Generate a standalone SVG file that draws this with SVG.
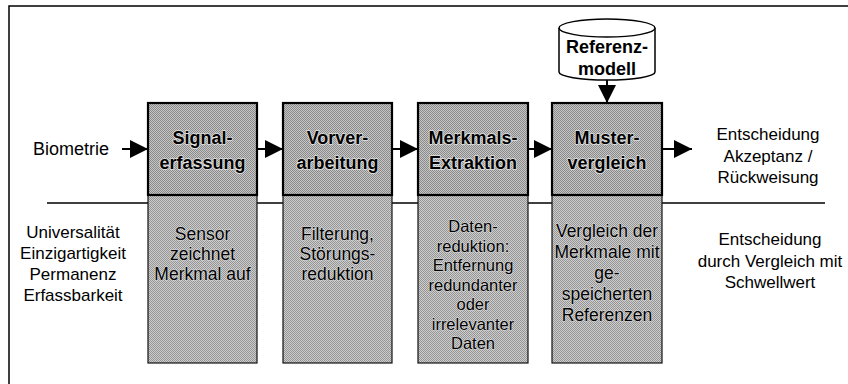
<svg xmlns="http://www.w3.org/2000/svg" width="848" height="384" viewBox="0 0 848 384">
<defs>
<pattern id="ditherA" patternUnits="userSpaceOnUse" width="2" height="2">
<rect width="2" height="2" fill="#c6c6c6"/>
<rect width="1" height="1" fill="#8a8a8a"/>
<rect x="1" y="1" width="1" height="1" fill="#8a8a8a"/>
</pattern>
<pattern id="ditherB" patternUnits="userSpaceOnUse" width="2" height="2">
<rect width="2" height="2" fill="#cdcdcd"/>
<rect width="1" height="1" fill="#959595"/>
<rect x="1" y="1" width="1" height="1" fill="#959595"/>
</pattern>
<marker id="arr" viewBox="0 0 10 10" refX="10" refY="5" markerWidth="18" markerHeight="18" markerUnits="userSpaceOnUse" orient="auto">
<path d="M0,0 L10,5 L0,10 Z" fill="#000"/>
</marker>
</defs>
<style>
text{font-family:"Liberation Sans",Arial,sans-serif;fill:#000;text-anchor:middle}
.plain{font-size:17px}
.head{font-size:18px;font-weight:bold;stroke:#e2e2e2;stroke-width:1.6px;paint-order:stroke;stroke-linejoin:round}
.desc{font-size:17.5px;stroke:#d8d8d8;stroke-width:1.2px;paint-order:stroke;stroke-linejoin:round}
.tight{font-size:16.5px}
.up{fill:url(#ditherA);stroke:#000;stroke-width:2.2}
.low{fill:url(#ditherB);stroke:#111;stroke-width:1.2}
.conn{stroke:#000;stroke-width:2;fill:none}
.frame{stroke:#000;stroke-width:1.5;fill:none}
</style>
<rect width="848" height="384" fill="#fff"/>
<g id="frame">
<path class="frame" d="M9,384 L9,6 L848,6"/>
</g>
<g id="divider">
<path d="M47,203 L825,203" stroke="#000" stroke-width="1.5"/>
</g>
<g id="connectors">
<path class="conn" d="M122,149 L148,149" marker-end="url(#arr)"/>
<path class="conn" d="M257,149 L283,149" marker-end="url(#arr)"/>
<path class="conn" d="M392,149 L418,149" marker-end="url(#arr)"/>
<path class="conn" d="M528,149 L552,149" marker-end="url(#arr)"/>
<path class="conn" d="M662,149 L692,149" marker-end="url(#arr)"/>
<path class="conn" d="M607,80 L607,103" marker-end="url(#arr)"/>
</g>
<g id="biometrie">
<text x="71" y="155" style="font-size:18px">Biometrie</text>
</g>
<g id="eigenschaften">
<text class="plain" x="73" y="238">Universalität</text>
<text class="plain" x="73" y="259">Einzigartigkeit</text>
<text class="plain" x="73" y="280">Permanenz</text>
<text class="plain" x="73" y="301">Erfassbarkeit</text>
</g>
<g id="signalerfassung">
<rect class="low" x="148" y="195" width="109" height="168"/>
<rect class="up" x="148" y="103" width="109" height="92"/>
<text class="head" x="202.5" y="144">Signal-</text>
<text class="head" x="202.5" y="169">erfassung</text>
<text class="desc" x="202.5" y="240">Sensor</text>
<text class="desc" x="202.5" y="260">zeichnet</text>
<text class="desc" x="202.5" y="280">Merkmal auf</text>
</g>
<g id="vorverarbeitung">
<rect class="low" x="283" y="195" width="109" height="168"/>
<rect class="up" x="283" y="103" width="109" height="92"/>
<text class="head" x="337.5" y="144">Vorver-</text>
<text class="head" x="337.5" y="169">arbeitung</text>
<text class="desc" x="337.5" y="240">Filterung,</text>
<text class="desc" x="337.5" y="260">Störungs-</text>
<text class="desc" x="337.5" y="280">reduktion</text>
</g>
<g id="merkmalsextraktion">
<rect class="low" x="418" y="195" width="110" height="168"/>
<rect class="up" x="418" y="103" width="110" height="92"/>
<text class="head" x="473" y="144">Merkmals-</text>
<text class="head" x="473" y="169">Extraktion</text>
<text class="desc tight" x="473" y="232">Daten-</text>
<text class="desc tight" x="473" y="251.5">reduktion:</text>
<text class="desc tight" x="473" y="271">Entfernung</text>
<text class="desc tight" x="473" y="290.5">redundanter</text>
<text class="desc tight" x="473" y="310">oder</text>
<text class="desc tight" x="473" y="329.5">irrelevanter</text>
<text class="desc tight" x="473" y="349">Daten</text>
</g>
<g id="mustervergleich">
<rect class="low" x="552" y="195" width="110" height="168"/>
<rect class="up" x="552" y="103" width="110" height="92"/>
<text class="head" x="607" y="144">Muster-</text>
<text class="head" x="607" y="169">vergleich</text>
<text class="desc" x="607" y="237">Vergleich der</text>
<text class="desc" x="607" y="258">Merkmale mit</text>
<text class="desc" x="607" y="279">ge-</text>
<text class="desc" x="607" y="300">speicherten</text>
<text class="desc" x="607" y="321">Referenzen</text>
</g>
<g id="referenzmodell">
<path d="M559,28 L559,72 A48,8 0 0 0 655,72 L655,28" fill="#fff" stroke="#000" stroke-width="1.5"/>
<ellipse cx="607" cy="28" rx="48" ry="9" fill="#fff" stroke="#000" stroke-width="1.5"/>
<text x="607" y="53" style="font-size:18px;font-weight:bold">Referenz-</text>
<text x="607" y="75" style="font-size:18px;font-weight:bold">modell</text>
</g>
<g id="entscheidung">
<text class="plain" x="768" y="140">Entscheidung</text>
<text class="plain" x="768" y="162">Akzeptanz /</text>
<text class="plain" x="768" y="183">Rückweisung</text>
</g>
<g id="schwellwert">
<text class="plain" x="770" y="245">Entscheidung</text>
<text class="plain" x="770" y="267">durch Vergleich mit</text>
<text class="plain" x="770" y="288">Schwellwert</text>
</g>
</svg>
